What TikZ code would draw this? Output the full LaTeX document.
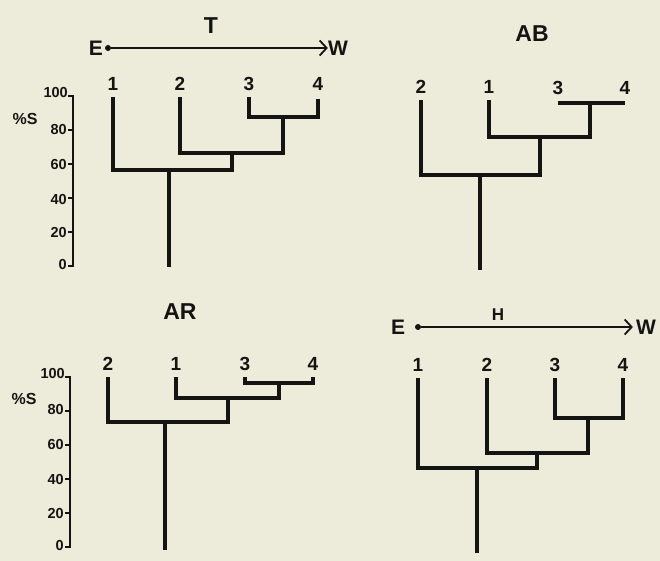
\documentclass[tikz,border=0pt]{standalone}
\usepackage{fontspec}
\setmainfont{Liberation Sans}
\usetikzlibrary{arrows.meta}
\definecolor{paper}{RGB}{237,235,218}
\definecolor{ink}{RGB}{20,20,18}
\tikzset{
  branch/.style={draw=ink, line width=3.6pt, line join=miter, line cap=butt},
  axisline/.style={draw=ink, line width=2.2pt, line join=miter},
  ticklab/.style={anchor=east, inner sep=0pt, font=\bfseries\fontsize{14.5}{14.5}\selectfont, text=ink},
  leaflab/.style={anchor=south, inner sep=0pt, font=\bfseries\fontsize{19}{19}\selectfont, text=ink},
  title/.style={inner sep=0pt, font=\bfseries\fontsize{23}{23}\selectfont, text=ink},
  dirlab/.style={inner sep=0pt, font=\bfseries\fontsize{21}{21}\selectfont, text=ink},
  ylab/.style={inner sep=0pt, font=\bfseries\fontsize{16}{16}\selectfont, text=ink},
  dirarrow/.style={draw=ink, line width=1.8pt, -{Straight Barb[length=7pt,width=15pt,line width=1.8pt]}},
  dot/.style={circle, fill=ink, inner sep=0pt, minimum size=6pt}
}
\begin{document}
\begin{tikzpicture}[x=1pt,y=-1pt]
\fill[paper] (0,0) rectangle (660,561);
\useasboundingbox (0,0) rectangle (660,561);

% ---------- Panel T ----------
\node[title] (tT) at (211,26) {T};
\node[dirlab] (tE) at (96,48) {E};
\node[dot] (tEd) at (108,48) {};
\node[dirlab] (tW) at (338,48) {W};
\draw[dirarrow] (tEd) -- (tW.west);

\coordinate (t1) at (113,97);
\coordinate (t2) at (180,97);
\coordinate (t3) at (249,97);
\coordinate (t4) at (318,99);
\node[leaflab] (t1l) at ([yshift=6]t1) {1};
\node[leaflab] (t2l) at ([yshift=6]t2) {2};
\node[leaflab] (t3l) at ([yshift=6]t3) {3};
\node[leaflab] (t4l) at ([yshift=8]t4) {4};
\coordinate (ta34) at (283,117);
\coordinate (ta234) at (232,153);
\coordinate (ta1234) at (169,170);
\coordinate (tr) at (169,267);
\draw[branch] (t3) |- (ta34) -| (t4);
\draw[branch] (t2) |- (ta234) -| (ta34);
\draw[branch] (t1) |- (ta1234) -| (ta234);
\draw[branch] (ta1234) -- (tr);

% axis T
\draw[axisline] (68,96) -- (73,96) -- (73,266) -- (68,266);
\foreach \v in {80,60,40,20} {
  \draw[axisline] (68,{266-1.7*\v}) -- (73,{266-1.7*\v});
}
\node[ticklab] (tk100) at (68,93) {100};
\node[ticklab] (tk80) at (67,130) {80};
\node[ticklab] (tk60) at (67,165) {60};
\node[ticklab] (tk40) at (67,200) {40};
\node[ticklab] (tk20) at (67,233) {20};
\node[ticklab] (tk0) at (67,265) {0};
\node[ylab] (tys) at (25,119) {\%S};

% ---------- Panel AB ----------
\node[title] (bT) at (532,34) {AB};
\coordinate (b2) at (421,100);
\coordinate (b1) at (489,100);
\coordinate (b3) at (558,103);
\coordinate (b4) at (625,103);
\node[leaflab] (b2l) at ([yshift=6]b2) {2};
\node[leaflab] (b1l) at ([yshift=6]b1) {1};
\node[leaflab] (b3l) at ([yshift=8]b3) {3};
\node[leaflab] (b4l) at ([yshift=8]b4) {4};
\coordinate (ba34) at (590,103);
\coordinate (ba134) at (540,137);
\coordinate (ba2134) at (480,175);
\coordinate (br) at (480,270);
\draw[branch] (b3) -- (b4);
\draw[branch] (b1) |- (ba134) -| (ba34);
\draw[branch] (b2) |- (ba2134) -| (ba134);
\draw[branch] (ba2134) -- (br);

% ---------- Panel AR ----------
\node[title] (cT) at (180,312) {AR};
\coordinate (c2) at (108,377);
\coordinate (c1) at (176,377);
\coordinate (c3) at (245,377);
\coordinate (c4) at (313,377);
\node[leaflab] (c2l) at ([yshift=6]c2) {2};
\node[leaflab] (c1l) at ([yshift=6]c1) {1};
\node[leaflab] (c3l) at ([yshift=6]c3) {3};
\node[leaflab] (c4l) at ([yshift=6]c4) {4};
\coordinate (ca34) at (279,383);
\coordinate (ca134) at (228,398);
\coordinate (ca2134) at (165,422);
\coordinate (cr) at (165,550);
\draw[branch] (c3) |- (ca34) -| (c4);
\draw[branch] (c1) |- (ca134) -| (ca34);
\draw[branch] (c2) |- (ca2134) -| (ca134);
\draw[branch] (ca2134) -- (cr);

% axis AR
\draw[axisline] (65,377) -- (70,377) -- (70,547) -- (65,547);
\foreach \v in {80,60,40,20} {
  \draw[axisline] (65,{547-1.7*\v}) -- (70,{547-1.7*\v});
}
\node[ticklab] (ck100) at (65,374) {100};
\node[ticklab] (ck80) at (64,410) {80};
\node[ticklab] (ck60) at (64,445) {60};
\node[ticklab] (ck40) at (64,480) {40};
\node[ticklab] (ck20) at (64,514) {20};
\node[ticklab] (ck0) at (64,546) {0};
\node[ylab] (cys) at (24,399) {\%S};

% ---------- Panel H ----------
\node[ylab, font=\bfseries\fontsize{17}{17}\selectfont] (hT) at (498,315) {H};
\node[dirlab] (hE) at (398,327) {E};
\node[dot] (hEd) at (418,327) {};
\node[dirlab] (hW) at (646,327) {W};
\draw[dirarrow] (hEd) -- ([xshift=-3]hW.west);
\coordinate (h1) at (418,378);
\coordinate (h2) at (487,378);
\coordinate (h3) at (555,378);
\coordinate (h4) at (623,378);
\node[leaflab] (h1l) at ([yshift=6]h1) {1};
\node[leaflab] (h2l) at ([yshift=6]h2) {2};
\node[leaflab] (h3l) at ([yshift=6]h3) {3};
\node[leaflab] (h4l) at ([yshift=6]h4) {4};
\coordinate (ha34) at (588,418);
\coordinate (ha234) at (537,453);
\coordinate (ha1234) at (477,468);
\coordinate (hr) at (477,553);
\draw[branch] (h3) |- (ha34) -| (h4);
\draw[branch] (h2) |- (ha234) -| (ha34);
\draw[branch] (h1) |- (ha1234) -| (ha234);
\draw[branch] (ha1234) -- (hr);
\end{tikzpicture}
\end{document}
